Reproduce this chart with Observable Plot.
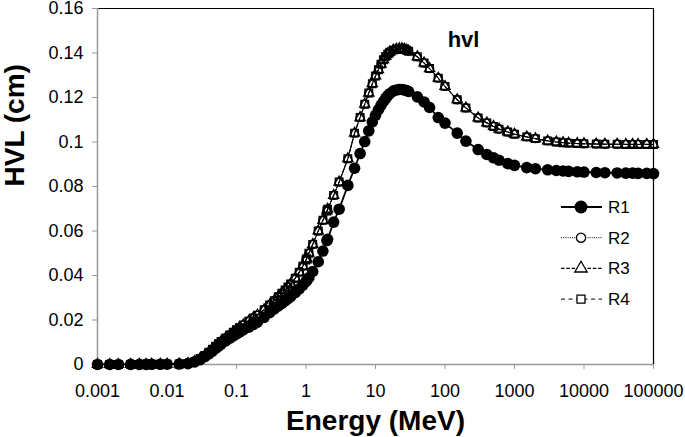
<!DOCTYPE html>
<html><head><meta charset="utf-8">
<script src="https://cdn.jsdelivr.net/npm/d3@7"></script>
<script src="https://cdn.jsdelivr.net/npm/@observablehq/plot@0.6"></script>
<style>
body{margin:0;background:#fff;}
#chart svg{font-family:"Liberation Sans",Arial,Helvetica,sans-serif;}
</style></head><body><div id="chart"></div>
<script>
const energy = [0.001,0.0015,0.002,0.003,0.004,0.005,0.006,0.008,0.01,
  0.015,0.02,0.025,0.03,0.035,0.04,0.045,0.05,0.055,0.06,0.07,0.08,0.09,0.1,
  0.11,0.125,0.15,0.175,0.2,0.25,0.3,0.35,0.4,0.45,0.5,0.55,0.6,0.7,0.8,0.9,1,
  1.022,1.1,1.25,1.5,1.75,2,2.044,2.5,
  3,4,5,6,7,8,9,10,11,12,13,14,15,16,
  18,20,22,24,26,28,30,
  40,50,60,80,100,
  150,200,300,400,500,600,800,1000,
  1500,2000,3000,4000,5000,6000,8000,10000,
  15000,20000,30000,40000,50000,60000,80000,100000];

const r1 = [0.00002,0.00002,0.00003,0.00004,0.00005,0.00006,0.00008,0.0001,0.00013,
  0.0002,0.0004,0.0012,0.0022,0.0035,0.0048,0.0060,0.0072,0.0082,0.0092,0.0106,0.0118,0.0128,0.0138,
  0.0145,0.0155,0.0168,0.0180,0.0190,0.0212,0.0233,0.0250,0.0263,0.0275,0.0286,0.0296,0.0305,0.0323,0.0340,0.0357,0.0373,
  0.0377,0.0390,0.0418,0.0462,0.0510,0.0557,0.0563,0.0640,
  0.0698,0.0805,0.0882,0.0948,0.1002,0.1050,0.1090,0.1120,0.1145,0.1165,0.1182,0.1196,0.1208,0.1217,
  0.1229,0.1234,0.1236,0.1236,0.1234,0.1231,0.1227,
  0.1203,0.1180,0.1155,0.1110,0.1085,
  0.1040,0.1004,0.0966,0.0944,0.0929,0.0918,0.0903,0.0895,
  0.0885,0.0880,0.0875,0.0872,0.0870,0.0868,0.0866,0.0865,
  0.0863,0.0862,0.0861,0.0860,0.0860,0.0859,0.0859,0.0858];

const r2 = [0.00002,0.00002,0.00003,0.00004,0.00005,0.00006,0.00008,0.0001,0.00014,
  0.0002,0.0005,0.0014,0.0027,0.0041,0.0055,0.0069,0.0082,0.0093,0.0103,0.0119,0.0133,0.0145,0.0156,
  0.0165,0.0178,0.0195,0.0209,0.0222,0.0246,0.0268,0.0287,0.0305,0.0320,0.0335,0.0348,0.0362,0.0388,0.0415,0.0442,0.0470,
  0.0476,0.0500,0.0540,0.0600,0.0648,0.0690,0.0698,0.0760,
  0.0820,0.0925,0.1040,0.1110,0.1170,0.1220,0.1262,0.1297,0.1325,0.1350,0.1370,0.1385,0.1396,0.1404,
  0.1413,0.1417,0.1419,0.1419,0.1417,0.1413,0.1408,
  0.1383,0.1355,0.1330,0.1287,0.1250,
  0.1190,0.1153,0.1108,0.1086,0.1070,0.1058,0.1045,0.1035,
  0.1023,0.1015,0.1005,0.1000,0.0997,0.0995,0.0993,0.0992,
  0.0991,0.0990,0.0990,0.0989,0.0989,0.0989,0.0989,0.0989];

const r3 = [0.00002,0.00002,0.00003,0.00004,0.00005,0.00006,0.00008,0.0001,0.00014,
  0.0002,0.0005,0.0014,0.0027,0.0041,0.0055,0.0069,0.0082,0.0093,0.0103,0.0119,0.0133,0.0145,0.0156,
  0.0165,0.0178,0.0195,0.0209,0.0222,0.0246,0.0268,0.0287,0.0305,0.0320,0.0335,0.0348,0.0362,0.0388,0.0415,0.0442,0.0470,
  0.0476,0.0500,0.0540,0.0600,0.0648,0.0690,0.0698,0.0760,
  0.0820,0.0925,0.1040,0.1110,0.1170,0.1220,0.1262,0.1297,0.1325,0.1350,0.1370,0.1385,0.1396,0.1404,
  0.1413,0.1417,0.1419,0.1419,0.1417,0.1413,0.1408,
  0.1383,0.1355,0.1330,0.1287,0.1250,
  0.1190,0.1153,0.1108,0.1086,0.1070,0.1058,0.1045,0.1035,
  0.1023,0.1015,0.1005,0.1000,0.0997,0.0995,0.0993,0.0992,
  0.0991,0.0990,0.0990,0.0989,0.0989,0.0989,0.0989,0.0989];

const r4 = [0.00002,0.00002,0.00003,0.00004,0.00005,0.00006,0.00008,0.0001,0.00014,
  0.0002,0.0005,0.0014,0.0027,0.0041,0.0055,0.0069,0.0082,0.0093,0.0103,0.0119,0.0133,0.0145,0.0156,
  0.0165,0.0178,0.0195,0.0209,0.0222,0.0246,0.0268,0.0287,0.0305,0.0320,0.0335,0.0348,0.0362,0.0388,0.0415,0.0442,0.0470,
  0.0476,0.0500,0.0540,0.0600,0.0648,0.0690,0.0698,0.0760,
  0.0820,0.0925,0.1040,0.1110,0.1170,0.1220,0.1262,0.1297,0.1325,0.1350,0.1370,0.1385,0.1396,0.1404,
  0.1413,0.1417,0.1419,0.1419,0.1417,0.1413,0.1408,
  0.1383,0.1355,0.1330,0.1287,0.1250,
  0.1190,0.1153,0.1108,0.1086,0.1070,0.1058,0.1045,0.1035,
  0.1023,0.1015,0.1005,0.1000,0.0997,0.0995,0.0993,0.0992,
  0.0991,0.0990,0.0990,0.0989,0.0989,0.0989,0.0989,0.0989];

const seriesNames = ["R1","R2","R3","R4"];
const xTicks = [0.001,0.01,0.1,1,10,100,1000,10000,100000];
const yTicks = [0,0.02,0.04,0.06,0.08,0.1,0.12,0.14,0.16];
const xLabel = "Energy (MeV)";
const yLabel = "HVL (cm)";
const annotation = "hvl";

const rows = vals => energy.map((e, i) => ({e, v: vals[i]}));
const datasets = [rows(r1), rows(r2), rows(r3), rows(r4)];

const styles = [
  {dash: null, symbol: "circle", r: 5.8, lr: 6.5, fill: "black", stroke: "none", lw: 1.8},
  {dash: "1,1.2", symbol: "circle", r: 4, lr: 4.6, fill: "none", stroke: "black", lw: 1},
  {dash: "3.5,1.8", symbol: "triangle", r: 3.8, lr: 4.6, fill: "none", stroke: "black", lw: 1.2},
  {dash: "4,3.5", symbol: "square", r: 4.3, lr: 4.5, fill: "none", stroke: "black", lw: 1}
];

const seriesMarks = datasets.flatMap((d, i) => {
  const s = styles[i];
  return [
    Plot.line(d, {x: "e", y: "v", stroke: "black", strokeWidth: s.lw, strokeDasharray: s.dash}),
    Plot.dot(d, {x: "e", y: "v", symbol: s.symbol, r: s.r, fill: s.fill, stroke: s.stroke, strokeWidth: 1.3})
  ];
});

const chart = Plot.plot({
  width: 685, height: 437,
  marginLeft: 97, marginRight: 32, marginTop: 8, marginBottom: 73,
  style: {fontFamily: '"Liberation Sans", Arial, sans-serif', fontSize: "18px", background: "white", overflow: "visible", color: "black"},
  x: {type: "log", domain: [0.001, 100000]},
  y: {domain: [0, 0.16]},
  marks: [
    Plot.ruleY([0.16], {stroke: "black", strokeWidth: 1.2}),
    Plot.ruleX([100000], {stroke: "black", strokeWidth: 1.2}),
    Plot.axisX({ticks: xTicks, tickFormat: d => String(d), tickSize: 5, tickPadding: 15, stroke: "#999", fill: "black", label: null, fontSize: 18}),
    Plot.axisY({ticks: yTicks, tickFormat: d3.format("~g"), tickSize: 5, tickPadding: 9, stroke: "#999", fill: "black", label: null, fontSize: 18}),
    Plot.ruleY([0], {stroke: "#999", strokeWidth: 1.5}),
    Plot.ruleX([0.001], {stroke: "#999", strokeWidth: 1.5}),
    ...seriesMarks,
    Plot.text([yLabel], {text: d => d, frameAnchor: "left", rotate: -90, dx: -82, fontSize: 28, fontWeight: "bold"}),
    Plot.text([xLabel], {text: d => d, frameAnchor: "bottom", dy: 65, fontSize: 28, fontWeight: "bold"}),
    Plot.text([annotation], {text: d => d, x: 185, y: 0.146, fontSize: 22, fontWeight: "bold"})
  ]
});
document.getElementById("chart").appendChild(chart);

// legend inside the plot area
const svg = d3.select(chart);
const lg = svg.append("g")
  .attr("font-family", '"Liberation Sans", Arial, sans-serif')
  .attr("font-size", 17)
  .attr("text-anchor", "start");
const lx1 = 561, lx2 = 602, mx = 581, tx = 608, ly0 = 207, lstep = 30.7;
seriesNames.forEach((name, i) => {
  const s = styles[i];
  const y = ly0 + i * lstep;
  lg.append("line").attr("x1", lx1).attr("x2", lx2).attr("y1", y).attr("y2", y)
    .attr("stroke", "black").attr("stroke-width", s.lw).attr("stroke-dasharray", s.dash);
  const sym = {circle: d3.symbolCircle, triangle: d3.symbolTriangle, square: d3.symbolSquare}[s.symbol];
  lg.append("path").attr("d", d3.symbol(sym, s.lr * s.lr * Math.PI)())
    .attr("transform", `translate(${mx},${y})`)
    .attr("fill", s.fill === "none" ? "white" : s.fill).attr("stroke", s.stroke).attr("stroke-width", 1.3);
  lg.append("text").attr("x", tx).attr("y", y).attr("dy", "0.35em").attr("text-anchor", "start").text(name);
});
</script></body></html>
